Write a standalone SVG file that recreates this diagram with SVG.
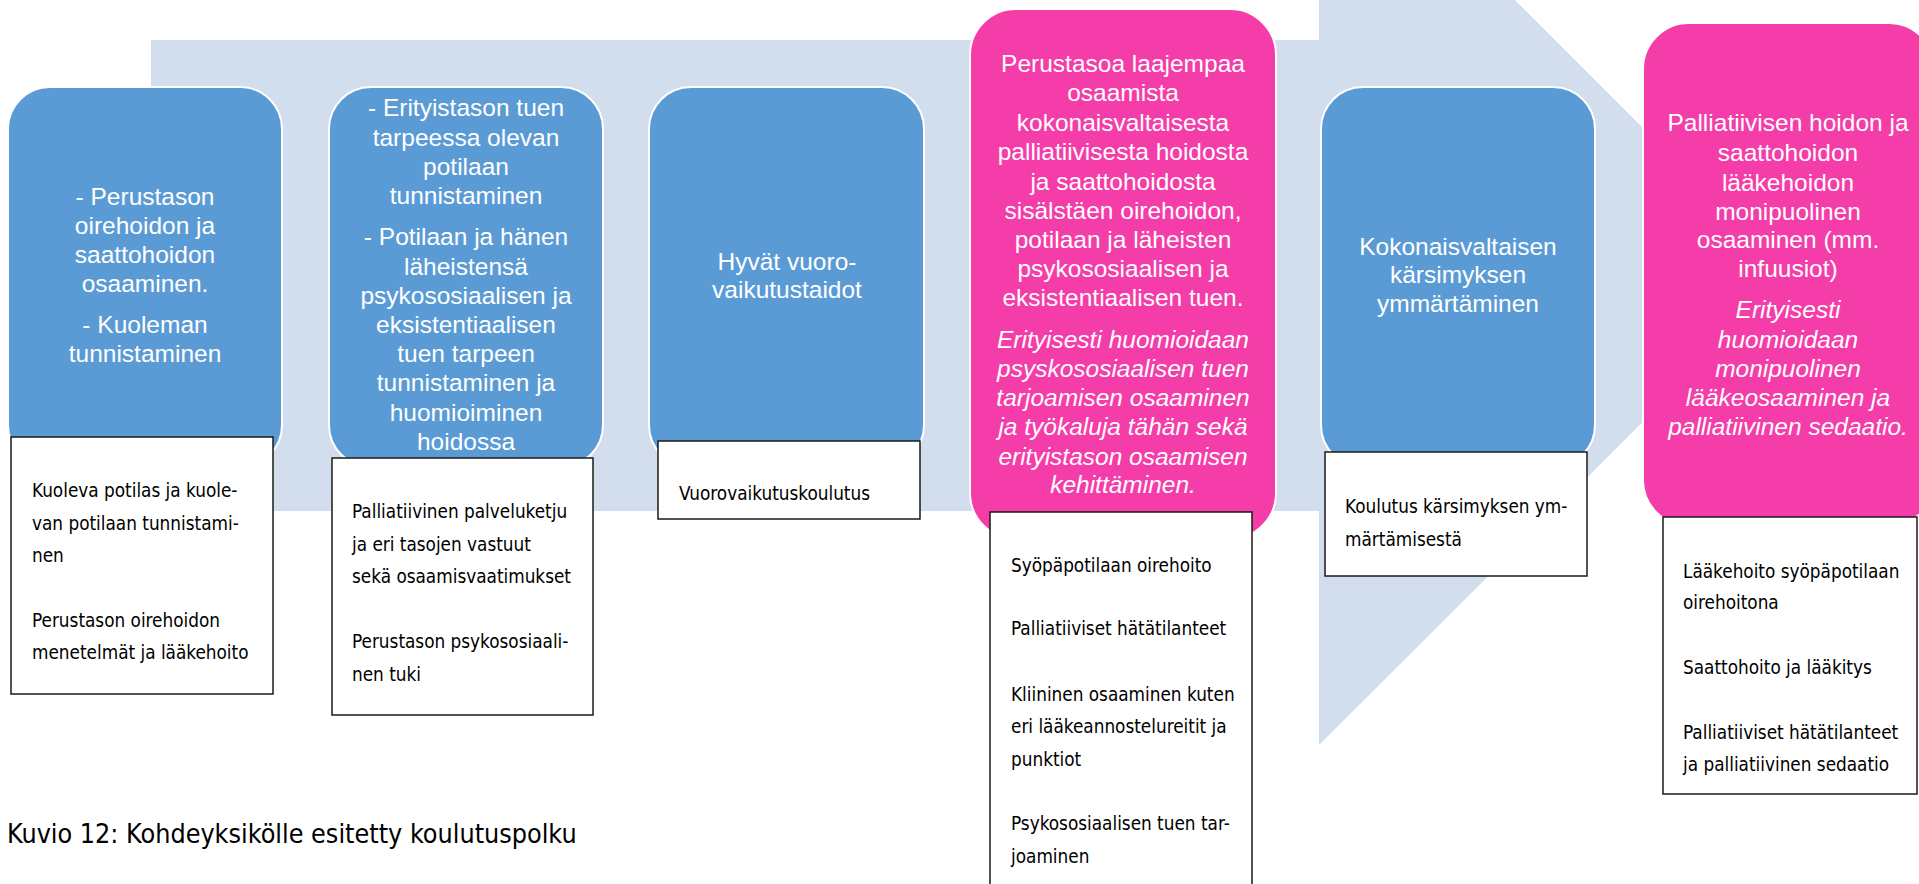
<svg xmlns="http://www.w3.org/2000/svg" width="1919" height="884" viewBox="0 0 1919 884">
<style>
.bg{fill:#D2DDEE}
.blue{fill:#5B9BD5;stroke:#FFFFFF;stroke-width:2}
.pink{fill:#F43DA9;stroke:#FFFFFF;stroke-width:2}
.wb{fill:#FFFFFF;stroke:#1A1A1A;stroke-width:1.5}
.t{font-family:"Liberation Sans",Arial,sans-serif;font-size:24.5px;fill:#FFFFFF;text-anchor:middle}
.i{font-style:italic}
.s{font-family:"DejaVu Sans Condensed","DejaVu Sans",sans-serif;font-stretch:condensed;font-size:18.8px;fill:#000000}
.cap{font-family:"DejaVu Sans Condensed","DejaVu Sans",sans-serif;font-stretch:condensed;font-size:26.7px;fill:#000000}
</style>
<rect width="1919" height="884" fill="#FFFFFF"/>
<polygon class="bg" points="151,40 1319,40 1319,-196 1790,275 1319,745 1319,511 151,511"/>

<g id="node1">
<rect class="blue" x="8" y="87" width="274" height="380" rx="42"/>
<text class="t"><tspan x="145" y="205">- Perustason</tspan><tspan x="145" y="234">oirehoidon ja</tspan><tspan x="145" y="263">saattohoidon</tspan><tspan x="145" y="292">osaaminen.</tspan><tspan x="145" y="333">- Kuoleman</tspan><tspan x="145" y="362">tunnistaminen</tspan></text>
</g>
<g id="node2">
<rect class="blue" x="329" y="87" width="274" height="380" rx="42"/>
<text class="t"><tspan x="466" y="116">- Erityistason tuen</tspan><tspan x="466" y="146">tarpeessa olevan</tspan><tspan x="466" y="175">potilaan</tspan><tspan x="466" y="204">tunnistaminen</tspan><tspan x="466" y="245">- Potilaan ja hänen</tspan><tspan x="466" y="275">läheistensä</tspan><tspan x="466" y="304">psykososiaalisen ja</tspan><tspan x="466" y="333">eksistentiaalisen</tspan><tspan x="466" y="362">tuen tarpeen</tspan><tspan x="466" y="391">tunnistaminen ja</tspan><tspan x="466" y="421">huomioiminen</tspan><tspan x="466" y="450">hoidossa</tspan></text>
</g>
<g id="node3">
<rect class="blue" x="649" y="87" width="275" height="380" rx="42"/>
<text class="t"><tspan x="787" y="270">Hyvät vuoro-</tspan><tspan x="787" y="298">vaikutustaidot</tspan></text>
</g>
<g id="node4">
<rect class="pink" x="970" y="9" width="306" height="530" rx="46"/>
<text class="t"><tspan x="1123" y="72">Perustasoa laajempaa</tspan><tspan x="1123" y="101">osaamista</tspan><tspan x="1123" y="131">kokonaisvaltaisesta</tspan><tspan x="1123" y="160">palliatiivisesta hoidosta</tspan><tspan x="1123" y="190">ja saattohoidosta</tspan><tspan x="1123" y="219">sisälstäen oirehoidon,</tspan><tspan x="1123" y="248">potilaan ja läheisten</tspan><tspan x="1123" y="277">psykososiaalisen ja</tspan><tspan x="1123" y="306">eksistentiaalisen tuen.</tspan></text>
<text class="t i"><tspan x="1123" y="348">Erityisesti huomioidaan</tspan><tspan x="1123" y="377">psyskososiaalisen tuen</tspan><tspan x="1123" y="406">tarjoamisen osaaminen</tspan><tspan x="1123" y="435">ja työkaluja tähän sekä</tspan><tspan x="1123" y="465">erityistason osaamisen</tspan><tspan x="1123" y="493">kehittäminen.</tspan></text>
</g>
<g id="node5">
<rect class="blue" x="1321" y="87" width="274" height="380" rx="42"/>
<text class="t"><tspan x="1458" y="255">Kokonaisvaltaisen</tspan><tspan x="1458" y="283">kärsimyksen</tspan><tspan x="1458" y="312">ymmärtäminen</tspan></text>
</g>
<g id="node6">
<rect class="pink" x="1643" y="23" width="292" height="503" rx="46"/>
<text class="t"><tspan x="1788" y="131">Palliatiivisen hoidon ja</tspan><tspan x="1788" y="161">saattohoidon</tspan><tspan x="1788" y="191">lääkehoidon</tspan><tspan x="1788" y="220">monipuolinen</tspan><tspan x="1788" y="248">osaaminen (mm.</tspan><tspan x="1788" y="277">infuusiot)</tspan></text>
<text class="t i"><tspan x="1788" y="318">Erityisesti</tspan><tspan x="1788" y="348">huomioidaan</tspan><tspan x="1788" y="377">monipuolinen</tspan><tspan x="1788" y="406">lääkeosaaminen ja</tspan><tspan x="1788" y="435">palliatiivinen sedaatio.</tspan></text>
</g>

<g id="training1">
<rect class="wb" x="11" y="437" width="262" height="257"/>
<text class="s"><tspan x="32" y="497">Kuoleva potilas ja kuole-</tspan><tspan x="32" y="530">van potilaan tunnistami-</tspan><tspan x="32" y="562">nen</tspan><tspan x="32" y="627">Perustason oirehoidon</tspan><tspan x="32" y="659">menetelmät ja lääkehoito</tspan></text>
</g>
<g id="training2">
<rect class="wb" x="332" y="458" width="261" height="257"/>
<text class="s"><tspan x="352" y="518">Palliatiivinen palveluketju</tspan><tspan x="352" y="551">ja eri tasojen vastuut</tspan><tspan x="352" y="583">sekä osaamisvaatimukset</tspan><tspan x="352" y="648">Perustason psykososiaali-</tspan><tspan x="352" y="681">nen tuki</tspan></text>
</g>
<g id="training3">
<rect class="wb" x="658" y="441" width="262" height="78"/>
<text class="s"><tspan x="679" y="500">Vuorovaikutuskoulutus</tspan></text>
</g>
<g id="training4">
<rect class="wb" x="990" y="512" width="262" height="380"/>
<text class="s"><tspan x="1011" y="572">Syöpäpotilaan oirehoito</tspan><tspan x="1011" y="635">Palliatiiviset hätätilanteet</tspan><tspan x="1011" y="701">Kliininen osaaminen kuten</tspan><tspan x="1011" y="733">eri lääkeannostelureitit ja</tspan><tspan x="1011" y="766">punktiot</tspan><tspan x="1011" y="830">Psykososiaalisen tuen tar-</tspan><tspan x="1011" y="863">joaminen</tspan></text>
</g>
<g id="training5">
<rect class="wb" x="1325" y="452" width="262" height="124"/>
<text class="s"><tspan x="1345" y="513">Koulutus kärsimyksen ym-</tspan><tspan x="1345" y="546">märtämisestä</tspan></text>
</g>
<g id="training6">
<rect class="wb" x="1663" y="517" width="254" height="277"/>
<text class="s"><tspan x="1683" y="578">Lääkehoito syöpäpotilaan</tspan><tspan x="1683" y="609">oirehoitona</tspan><tspan x="1683" y="674">Saattohoito ja lääkitys</tspan><tspan x="1683" y="739">Palliatiiviset hätätilanteet</tspan><tspan x="1683" y="771">ja palliatiivinen sedaatio</tspan></text>
</g>
<g id="connectors"></g>
<text class="cap" x="7" y="843">Kuvio 12: Kohdeyksikölle esitetty koulutuspolku</text>
</svg>
